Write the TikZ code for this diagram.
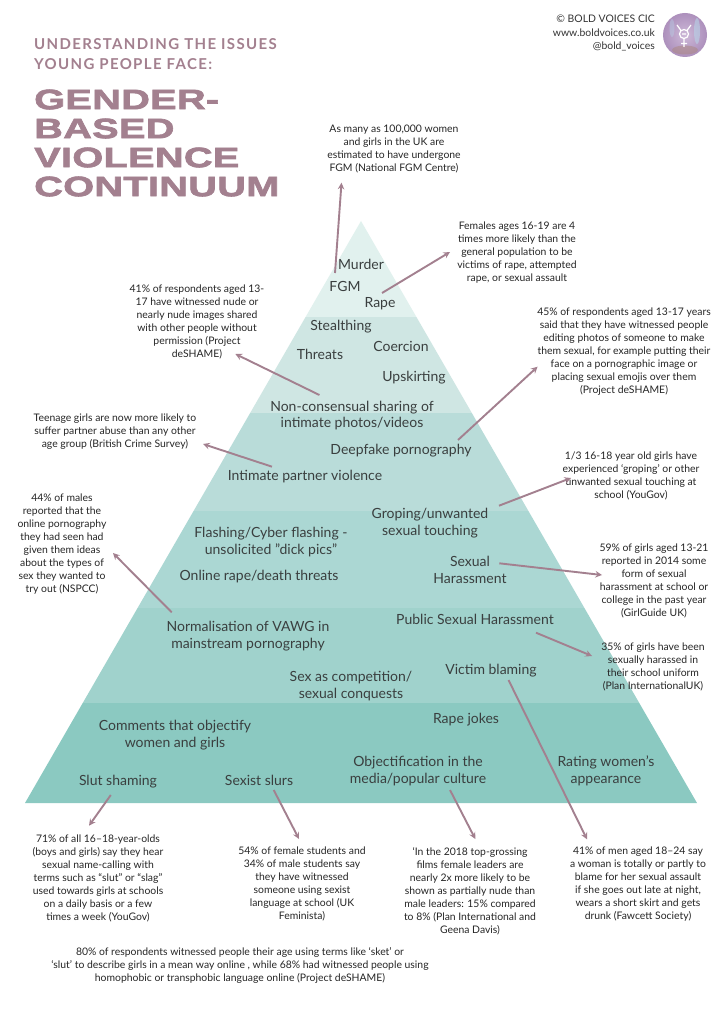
\documentclass[tikz,border=0pt]{standalone}
\usepackage{fontspec}
\setmainfont{Lato}
\newfontfamily\headfont[LetterSpace=9]{Lato Bold}
\newfontfamily\titlefont[FakeStretch=1.42,FakeBold=2.5,LetterSpace=1]{Liberation Sans Bold}
\definecolor{mauve}{HTML}{A3808F}
\definecolor{darktext}{HTML}{3A3F3F}
\definecolor{logolight}{HTML}{CDB9D8}
\definecolor{logodark}{HTML}{AD90BC}
\definecolor{logoblue}{HTML}{B9D3E8}
\definecolor{logobrown}{HTML}{A98474}
\tikzstyle{lvl} = [inner sep=0pt, align=center, text=darktext, font=\fontsize{14}{16.5}\selectfont]
\tikzstyle{stat} = [inner sep=0pt, align=center, text=black!85, font=\fontsize{10.4}{13}\selectfont]
\tikzstyle{statarrow} = [draw=mauve, line width=1.9pt, -stealth]
\tikzstyle{hd} = [inner sep=0pt, anchor=west, text=mauve]

\begin{document}
\begin{tikzpicture}[x=1pt,y=-1pt]
	\useasboundingbox (0,0) rectangle (722,1024);
	\fill[white] (0,0) rectangle (722,1024);
	% pyramid bands
	\foreach \ytop/\ybot/\bandcol in {221/317/E1F1EE, 317/413/CFE6E3, 413/511/B9DCD9, 511/608/ABD7D3, 608/703/A0D2CC, 703/803/8BC9C1}{
		\definecolor{bandfill}{HTML}{\bandcol}
		\fill[bandfill] ({361-(\ytop-221)*0.5773},\ytop) -- ({361+(\ytop-221)*0.5773},\ytop) -- ({361+(\ybot-221)*0.5773},\ybot) -- ({361-(\ybot-221)*0.5773},\ybot) -- cycle;
	}
	% heading
	\node [hd, font=\headfont\fontsize{15}{20}\selectfont, align=left] (subtitle) at (34,54) {UNDERSTANDING THE ISSUES\\YOUNG PEOPLE FACE:};
	\node [hd, font=\titlefont\fontsize{28}{29}\selectfont, align=left] (title) at (34,143) {GENDER-\\BASED\\VIOLENCE\\CONTINUUM};
	\node [inner sep=0pt, anchor=east, align=right, text=black!80, font=\fontsize{10.4}{13.5}\selectfont] (credit) at (655,33) {© BOLD VOICES CIC\\www.boldvoices.co.uk\\@bold\_voices};
	% logo
	\shade[inner color=logolight, outer color=logodark] (685,35) circle (22);
	\fill[logoblue, opacity=.6] (697,31) ellipse (3 and 13);
	\fill[logoblue, opacity=.4] (672,28) ellipse (2.5 and 9);
	\fill[logobrown, opacity=.45] (685,50) ellipse (13 and 4.5);
	\draw[white, line width=1.2pt] (684,34) circle (4.5) (684,38.5) -- (684,47) (681,43.5) -- (687,43.5) (681,30.5) -- (677,25) (687,30.5) -- (691,25) (682,34) -- (686,34);

	% levels of the pyramid
	\node [lvl] (lblMurder) at (361,264) {Murder};
	\node [lvl] (lblFgm) at (345,286) {FGM};
	\node [lvl] (lblRape) at (380,304) {Rape};
	\node [lvl] (lblStealth) at (341,327) {Stealthing};
	\node [lvl] (lblThreats) at (320,354) {Threats};
	\node [lvl] (lblCoercion) at (401,346) {Coercion};
	\node [lvl] (lblUpskirt) at (414,378) {Upskirting};
	\node [lvl] (lblShare) at (352,415.5) {Non-consensual sharing of\\intimate photos/videos};
	\node [lvl] (lblDeepfake) at (401,451) {Deepfake pornography};
	\node [lvl] (lblPartner) at (305,477) {Intimate partner violence};
	\node [lvl] (lblGroping) at (430,523) {Groping/unwanted\\sexual touching};
	\node [lvl] (lblFlash) at (271,542) {Flashing/Cyber flashing -\\unsolicited "dick pics"};
	\node [lvl] (lblThreat) at (259,577) {Online rape/death threats};
	\node [lvl] (lblHarass) at (470,570) {Sexual\\Harassment};
	\node [lvl] (lblNormal) at (248,636) {Normalisation of VAWG in\\mainstream pornography};
	\node [lvl] (lblPublic) at (475,619) {Public Sexual Harassment};
	\node [lvl] (lblConquest) at (351,686) {Sex as competition/\\sexual conquests};
	\node [lvl] (lblVictim) at (491,671) {Victim blaming};
	\node [lvl] (lblJokes) at (466,720) {Rape jokes};
	\node [lvl] (lblComment) at (175,735) {Comments that objectify\\women and girls};
	\node [lvl] (lblSlut) at (118,782) {Slut shaming};
	\node [lvl] (lblSexist) at (259,780) {Sexist slurs};
	\node [lvl] (lblObject) at (418,771) {Objectification in the\\media/popular culture};
	\node [lvl] (lblRating) at (606,771) {Rating women's\\appearance};

	% statistics
	\node [stat] (statFgm) at (394,149) {As many as 100,000 women\\and girls in the UK are\\estimated to have undergone\\FGM (National FGM Centre)};
	\node [stat] (statRape) at (517,253) {Females ages 16-19 are 4\\times more likely than the\\general population to be\\victims of rape, attempted\\rape, or sexual assault};
	\node [stat] (statShare) at (197,322) {41\% of respondents aged 13-\\17 have witnessed nude or\\nearly nude images shared\\with other people without\\permission (Project\\deSHAME)};
	\node [stat] (statDeepfake) at (624,352) {45\% of respondents aged 13-17 years\\said that they have witnessed people\\editing photos of someone to make\\them sexual, for example putting their\\face on a pornographic image or\\placing sexual emojis over them\\(Project deSHAME)};
	\node [stat] (statPartner) at (115,432) {Teenage girls are now more likely to\\suffer partner abuse than any other\\age group (British Crime Survey)};
	\node [stat] (statGroping) at (631,476) {1/3 16-18 year old girls have\\experienced ‘groping’ or other\\unwanted sexual touching at\\school (YouGov)};
	\node [stat] (statNormal) at (62,544) {44\% of males\\reported that the\\online pornography\\they had seen had\\given them ideas\\about the types of\\sex they wanted to\\try out (NSPCC)};
	\node [stat] (statHarass) at (654,581) {59\% of girls aged 13-21\\reported in 2014 some\\form of sexual\\harassment at school or\\college in the past year\\(GirlGuide UK)};
	\node [stat] (statPublic) at (653,667) {35\% of girls have been\\sexually harassed in\\their school uniform\\(Plan InternationalUK)};
	\node [stat] (statSlut) at (98,878) {71\% of all 16–18-year-olds\\(boys and girls) say they hear\\sexual name-calling with\\terms such as “slut” or “slag”\\used towards girls at schools\\on a daily basis or a few\\times a week (YouGov)};
	\node [stat] (statSexist) at (302,884) {54\% of female students and\\34\% of male students say\\they have witnessed\\someone using sexist\\language at school (UK\\Feminista)};
	\node [stat] (statObject) at (470,891) {‘In the 2018 top-grossing\\films female leaders are\\nearly 2x more likely to be\\shown as partially nude than\\male leaders: 15\% compared\\to 8\% (Plan International and\\Geena Davis)};
	\node [stat] (statVictim) at (638,884) {41\% of men aged 18–24 say\\a woman is totally or partly to\\blame for her sexual assault\\if she goes out late at night,\\wears a short skirt and gets\\drunk (Fawcett Society)};
	\node [stat] (statOnline) at (240,965) {80\% of respondents witnessed people their age using terms like ‘sket’ or\\‘slut’ to describe girls in a mean way online , while 68\% had witnessed people using\\homophobic or transphobic language online (Project deSHAME)};

	% connectors
	\draw [statarrow] ([shift={(-10,-13)}]lblFgm.center) -- ([shift={(-52.5,33.7)}]statFgm.center);
	\draw [statarrow] ([shift={(2,-11)}]lblRape.center) -- ([shift={(-67,-1)}]statRape.center);
	\draw [statarrow] ([shift={(-32.6,-20.5)}]lblShare.center) -- ([shift={(38.4,32)}]statShare.center);
	\draw [statarrow] ([shift={(57,-11)}]lblDeepfake.center) -- ([shift={(-86.4,14.7)}]statDeepfake.center);
	\draw [statarrow] ([shift={(-33,-10.3)}]lblPartner.center) -- ([shift={(88,12)}]statPartner.center);
	\draw [statarrow] ([shift={(69,-17.3)}]lblGroping.center) -- ([shift={(-60,2)}]statGroping.center);
	\draw [statarrow] ([shift={(-76.3,-23.7)}]lblNormal.center) -- ([shift={(51,9)}]statNormal.center);
	\draw [statarrow] ([shift={(29.3,-6.7)}]lblHarass.center) -- ([shift={(-52,-6)}]statHarass.center);
	\draw [statarrow] ([shift={(61,13.7)}]lblPublic.center) -- ([shift={(-61,-11)}]statPublic.center);
	\draw [statarrow] ([shift={(17.5,9)}]lblVictim.center) -- ([shift={(-51,-44.7)}]statVictim.center);
	\draw [statarrow] ([shift={(-7.2,13)}]lblSlut.center) -- ([shift={(-9,-52.3)}]statSlut.center);
	\draw [statarrow] ([shift={(14.7,10)}]lblSexist.center) -- ([shift={(-3,-45)}]statSexist.center);
	\draw [statarrow] ([shift={(32,19)}]lblObject.center) -- ([shift={(5.3,-52)}]statObject.center);
\end{tikzpicture}
\end{document}
